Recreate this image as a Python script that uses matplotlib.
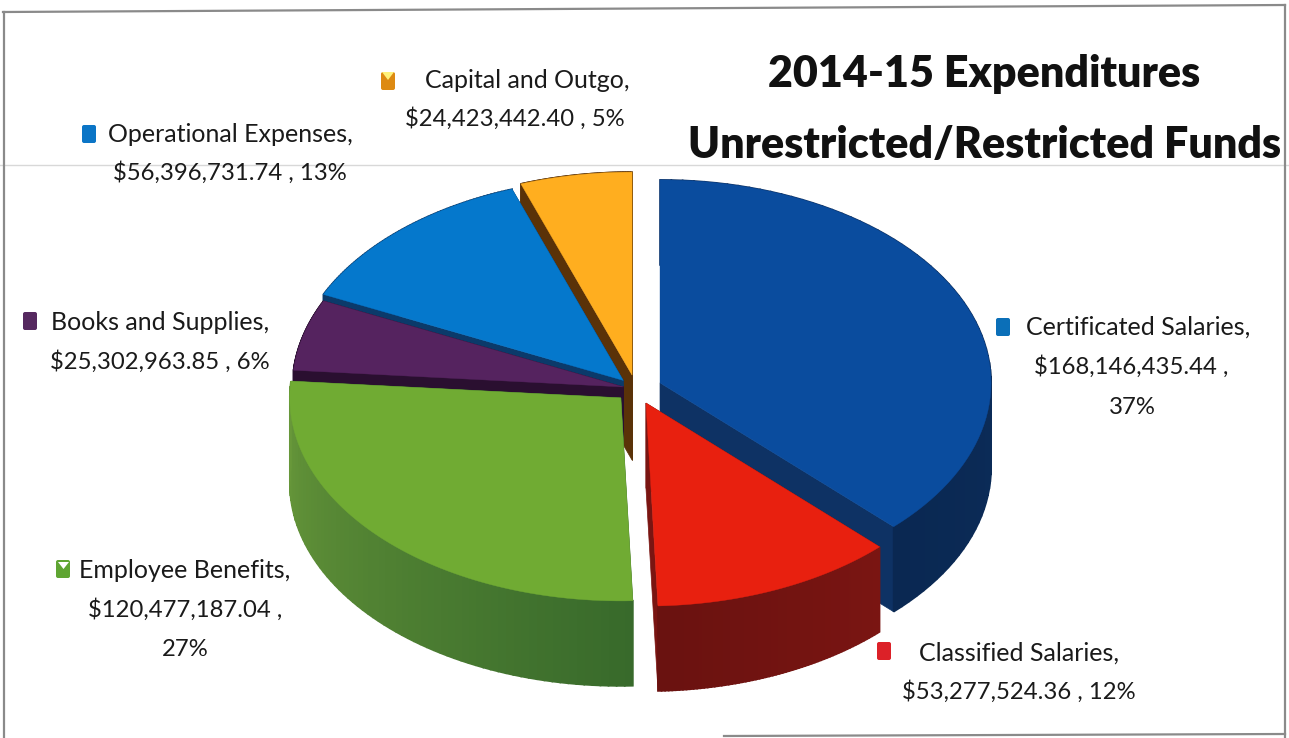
import matplotlib
matplotlib.use("Agg")
import matplotlib.pyplot as plt
import numpy as np
from matplotlib.colors import to_rgb
from matplotlib.patches import FancyBboxPatch

plt.rcParams['font.family'] = ['Lato', 'DejaVu Sans']

# data
names = ["Certificated Salaries", "Classified Salaries", "Employee Benefits",
         "Books and Supplies", "Operational Expenses", "Capital and Outgo"]
amounts = [168146435.44, 53277524.36, 120477187.04, 25302963.85, 56396731.74, 24423442.40]
percents = [37, 12, 27, 6, 13, 5]

# styles for each slice
top_colors = ["#0a4c9e", "#e8200f", "#70ab33", "#55235f", "#0578cc", "#ffae1f"]
wall_start = ["#0e3264", "#7a1512", "#386a2b", "#2a0f30", "#0b3a6a", "#5a3208"]
wall_end = ["#0a2852", "#6a1210", "#68983a", "#2a0f30", "#0b3a6a", "#5a3208"]
explode = [26, 25, 21, 13, 19, 23]
draw_order = [5, 4, 3, 2, 0, 1]

cx, cy = 636, 389
rx, ry = 331, 203
depth = 85

fig = plt.figure(figsize=(12.89, 7.38), dpi=100)
ax = fig.add_axes([0, 0, 1, 1])
ax.set_xlim(0, 1289)
ax.set_ylim(738, 0)
ax.axis("off")

# angles run clockwise from the top of the pie
shares = np.array(amounts) / sum(amounts)
edges = np.concatenate([[0], np.cumsum(shares)]) * 2 * np.pi


def point(ox, oy, t):
    return ox + rx * np.sin(t), oy - ry * np.cos(t)


def draw_slice(i):
    t0, t1 = edges[i], edges[i + 1]
    mid = (t0 + t1) / 2
    ox = cx + explode[i] * np.sin(mid)
    oy = cy - explode[i] * np.cos(mid) * ry / rx

    # cut faces
    for t in (t0, t1):
        x, y = point(ox, oy, t)
        ax.fill([ox, x, x, ox], [oy, y, y + depth, oy + depth],
                color=wall_start[i], lw=0.5, zorder=1 + draw_order.index(i))

    # outer wall in thin strips so it can shade along the arc
    ts = np.linspace(t0, t1, 70)
    c0 = np.array(to_rgb(wall_start[i]))
    c1 = np.array(to_rgb(wall_end[i]))
    for k in range(len(ts) - 1):
        xa, ya = point(ox, oy, ts[k])
        xb, yb = point(ox, oy, ts[k + 1])
        col = c0 + (c1 - c0) * k / (len(ts) - 2)
        ax.fill([xa, xb, xb, xa], [ya, yb, yb + depth, ya + depth],
                color=col, lw=1.2, zorder=1 + draw_order.index(i))

    # top surface
    xs, ys = point(ox, oy, ts)
    ax.fill(np.r_[ox, xs], np.r_[oy, ys], color=top_colors[i], lw=0.3,
            zorder=1.5 + draw_order.index(i))


for i in draw_order:
    draw_slice(i)

# data labels: key position, then line centre x/y for each line
key_colors = ["#0b6fb8", "#dc2128", "#5fa532", "#55285f", "#0b75c6", "#dd8a12"]
key_pos = [(1003, 327), (884, 651), (63, 569), (30, 321), (89, 134), (388, 81)]
line_pos = [
    [(1138, 327), (1131, 367), (1132, 407)],
    [(1019, 653), (1019, 692)],
    [(185, 570), (185, 610), (185, 650)],
    [(160, 322), (160, 362)],
    [(230, 134), (230, 173)],
    [(527, 80), (515, 119)],
]
name_size = 18
amount_size = 17.2

for i in range(len(names)):
    amount = f"${amounts[i]:,.2f} ,"
    pct = f"{percents[i]}%"
    if len(line_pos[i]) == 3:
        lines = [names[i] + ",", amount, pct]
    else:
        lines = [names[i] + ",", amount + " " + pct]
    for j, ((x, y), s) in enumerate(zip(line_pos[i], lines)):
        ax.text(x, y, s, ha="center", va="center",
                fontsize=name_size if j == 0 else amount_size,
                color="#1a1a1a", zorder=20)
    kx, ky = key_pos[i]
    ax.add_patch(FancyBboxPatch((kx - 6, ky - 8), 12, 16, boxstyle="round,pad=1,rounding_size=2",
                                fc=key_colors[i], ec="none", zorder=20))

# little notches the scan left on two keys
ax.fill([382, 394, 388], [72, 72, 80], color="#fff27a", lw=0, zorder=21)
ax.fill([58, 69, 63.5], [562, 562, 569], color="white", lw=0, zorder=21)

# title
ax.text(984, 74, "2014-15 Expenditures", ha="center", va="center",
        fontsize=31, fontweight="heavy", color="#111111", zorder=20)
ax.text(985, 145, "Unrestricted/Restricted Funds", ha="center", va="center",
        fontsize=31, fontweight="heavy", color="#111111", zorder=20)

# frame of the scanned page
frame = "#8a8a8a"
ax.plot([3, 1285], [12, 5], color=frame, lw=1.6, zorder=0.5)
ax.plot([4, 4], [12, 738], color=frame, lw=1.6, zorder=0.5)
ax.plot([1285, 1285], [5, 738], color=frame, lw=1.6, zorder=0.5)
ax.plot([724, 1285], [736, 734], color=frame, lw=1.6, zorder=0.5)
ax.plot([0, 1289], [165, 165], color="#d8d8d8", lw=1.0, zorder=0.4)

fig.savefig("out.png", dpi=100)
